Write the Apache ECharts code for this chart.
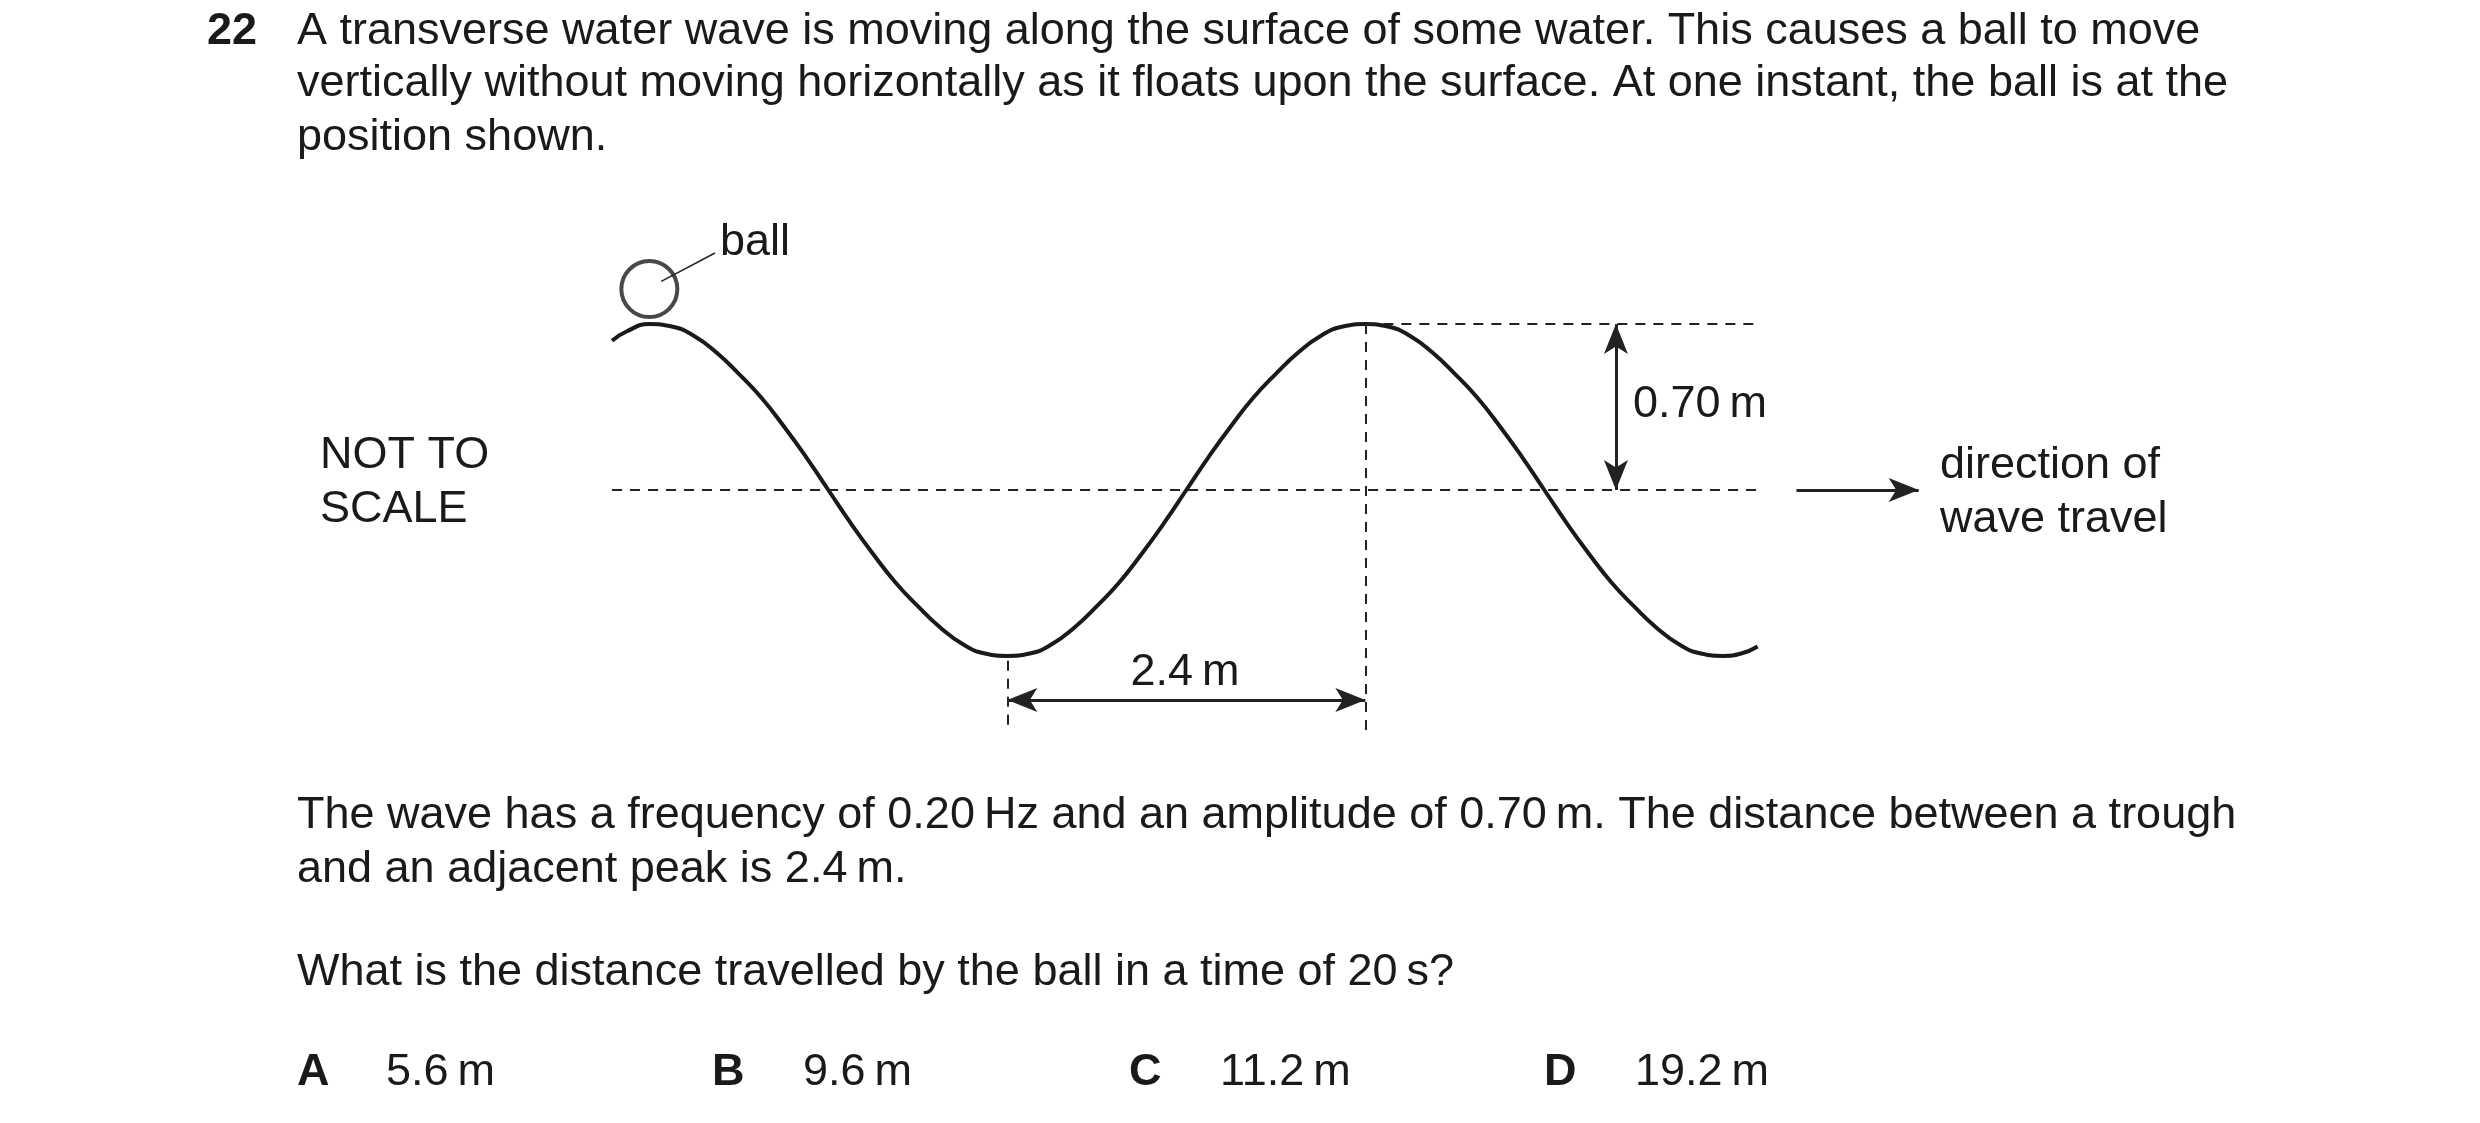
<!DOCTYPE html>
<html><head><meta charset="utf-8">
<script src="https://cdn.jsdelivr.net/npm/echarts@6/dist/echarts.min.js"></script>
<style>html,body{margin:0;padding:0;background:#fff}#c{width:2480px;height:1123px}</style>
</head><body><div id="c"></div>
<script>
// wave samples (metres along surface, displacement in metres)
const waveX = [-0.25, -0.15, 0, 0.15, 0.3, 0.45, 0.6, 0.75, 0.9, 1.05, 1.2, 1.35, 1.5, 1.65, 1.8, 1.95, 2.1, 2.25, 2.4,
  2.55, 2.7, 2.85, 3.0, 3.15, 3.3, 3.45, 3.6, 3.75, 3.9, 4.05, 4.2, 4.35, 4.5, 4.65, 4.8,
  4.95, 5.1, 5.25, 5.4, 5.55, 5.7, 5.85, 6.0, 6.15, 6.3, 6.45, 6.6, 6.75, 6.9, 7.05, 7.2, 7.32, 7.43];
const waveY = [0.63, 0.67, 0.70, 0.69, 0.65, 0.58, 0.49, 0.39, 0.27, 0.14, 0.0, -0.14, -0.27, -0.39, -0.49, -0.58, -0.65, -0.69, -0.70,
  -0.69, -0.65, -0.58, -0.49, -0.39, -0.27, -0.14, 0.0, 0.14, 0.27, 0.39, 0.49, 0.58, 0.65, 0.69, 0.70,
  0.69, 0.65, 0.58, 0.49, 0.39, 0.27, 0.14, 0.0, -0.14, -0.27, -0.39, -0.49, -0.58, -0.65, -0.69, -0.70, -0.69, -0.66];
const ballPos = [0, 0.848];
const amplitude = 0.70;
const halfWave = 2.4;
const questionLines = [
  'A transverse water wave is moving along the surface of some water. This causes a ball to move',
  'vertically without moving horizontally as it floats upon the surface. At one instant, the ball is at the',
  'position shown.'
];
const infoLines = [
  'The wave has a frequency of 0.20\u2009Hz and an amplitude of 0.70\u2009m. The distance between a trough',
  'and an adjacent peak is 2.4\u2009m.'
];
const askLine = 'What is the distance travelled by the ball in a time of 20\u2009s?';
const optionLetters = ['A','B','C','D'];
const optionValues = ['5.6\u2009m','9.6\u2009m','11.2\u2009m','19.2\u2009m'];

const FONT = 'Liberation Sans, Arial, sans-serif';
const FS = 45;
const chart = echarts.init(document.getElementById('c'));
const dash = {type:[10,8], width:2, color:'#222'};
const solid = {type:'solid', width:3, color:'#222'};
function seg(a,b,style,sym){return [{coord:a,symbol:sym?sym[0]:'none',lineStyle:style},{coord:b,symbol:sym?sym[1]:'none'}];}
function T(s,x,y,bold,align){return {type:'text',x:x,y:y,style:{text:s,font:(bold?'bold ':'')+FS+'px '+FONT,fill:'#1a1a1a',textAlign:align||'left',textVerticalAlign:'middle'}};}
const graphics = [];
graphics.push(T('22',207,32,true));
questionLines.forEach((l,i)=>graphics.push(T(l,297,[32,84,138][i])));
infoLines.forEach((l,i)=>graphics.push(T(l,297,[816,870][i])));
graphics.push(T(askLine,297,973));
const lx=[297,712,1129,1544], vx=[386,803,1220,1635];
optionLetters.forEach((l,i)=>{ graphics.push(T(l,lx[i],1073,true)); graphics.push(T(optionValues[i],vx[i],1073)); });
[['NOT TO',320,456],['SCALE',320,510],['direction of',1940,466],['wave travel',1940,520],['ball',720,243],['0.70\u2009m',1633,405]].forEach(t=>graphics.push(T(t[0],t[1],t[2])));
graphics.push(T('2.4\u2009m',1185,673,false,'center'));

const xEnd = waveX[waveX.length-1];
const peak2 = 2*halfWave, trough = halfWave;
chart.setOption({
  animation:false,
  grid:{left:351,right:339,top:134.5,bottom:277.5},
  xAxis:{type:'value',min:-2,max:10,show:false},
  yAxis:{type:'value',min:-1.5,max:1.5,show:false},
  graphic:graphics,
  series:[
    {type:'line',data:waveX.map((x,i)=>[x,waveY[i]]),smooth:true,showSymbol:false,
     lineStyle:{color:'#1a1a1a',width:4},
     markLine:{silent:true,symbolSize:[18,30],label:{show:false},lineStyle:dash,
       data:[
         seg([waveX[0],0],[xEnd,0],dash),
         seg([peak2,amplitude],[xEnd,amplitude],dash),
         seg([peak2,amplitude],[peak2,-1.02],dash),
         seg([trough,-0.72],[trough,-1.02],dash),
         seg([6.48,amplitude],[6.48,0],solid,['arrow','arrow']),
         seg([trough,-0.886],[peak2,-0.886],solid,['arrow','arrow']),
         seg([7.69,0],[8.51,0],solid,['none','arrow']),
         seg([0.08,0.88],[0.44,1.0],{type:'solid',width:1.5,color:'#222'})
       ]}},
    {type:'scatter',data:[ballPos],symbol:'circle',symbolSize:56,
     itemStyle:{color:'#fff',borderColor:'#1a1a1a',borderWidth:4},z:1}
  ]
});
</script></body></html>
